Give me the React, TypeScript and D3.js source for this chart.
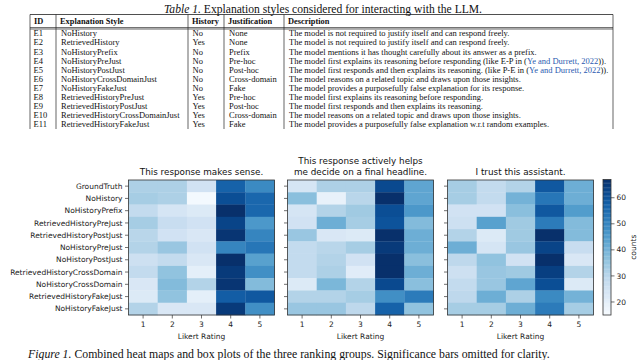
import React from "react";
import * as d3 from "d3";

// table data
const tableIds = ["E1", "E2", "E3", "E4", "E5", "E6", "E7", "E8", "E9", "E10", "E11"];
const tableStyles = [
  "NoHistory",
  "RetrievedHistory",
  "NoHistoryPrefix",
  "NoHistoryPreJust",
  "NoHistoryPostJust",
  "NoHistoryCrossDomainJust",
  "NoHistoryFakeJust",
  "RetrievedHistoryPreJust",
  "RetrievedHistoryPostJust",
  "RetrievedHistoryCrossDomainJust",
  "RetrievedHistoryFakeJust",
];
const tableHistory = ["No", "Yes", "No", "No", "No", "No", "No", "Yes", "Yes", "Yes", "Yes"];
const tableJustification = [
  "None", "None", "Prefix", "Pre-hoc", "Post-hoc", "Cross-domain", "Fake",
  "Pre-hoc", "Post-hoc", "Cross-domain", "Fake",
];
const tableDescriptions = [
  "The model is not required to justify itself and can respond freely.",
  "The model is not required to justify itself and can respond freely.",
  "The model mentions it has thought carefully about its answer as a prefix.",
  "The model first explains its reasoning before responding (like E-P in (Ye and Durrett, 2022)).",
  "The model first responds and then explains its reasoning. (like P-E in (Ye and Durrett, 2022)).",
  "The model reasons on a related topic and draws upon those insights.",
  "The model provides a purposefully false explanation for its response.",
  "The model first explains its reasoning before responding.",
  "The model first responds and then explains its reasoning.",
  "The model reasons on a related topic and draws upon those insights.",
  "The model provides a purposefully false explanation w.r.t random examples.",
];
const citation = "Ye and Durrett, 2022";
const tableHeaders = ["ID", "Explanation Style", "History", "Justification", "Description"];

// heatmap data
const likert = ["1", "2", "3", "4", "5"];
const conditions = [
  "GroundTruth",
  "NoHistory",
  "NoHistoryPrefix",
  "RetrievedHistoryPreJust",
  "RetrievedHistoryPostJust",
  "NoHistoryPreJust",
  "NoHistoryPostJust",
  "RetrievedHistoryCrossDomain",
  "NoHistoryCrossDomain",
  "RetrievedHistoryFakeJust",
  "NoHistoryFakeJust",
];
const makesSense = [
  [32, 32, 25, 57, 49],
  [33, 32, 16, 61, 56],
  [28, 24, 22, 67, 56],
  [33, 27, 25, 63, 46],
  [30, 25, 23, 66, 50],
  [31, 35, 25, 50, 53],
  [26, 28, 23, 67, 44],
  [28, 36, 20, 65, 48],
  [23, 38, 31, 66, 38],
  [22, 36, 20, 58, 59],
  [31, 23, 23, 65, 48],
];
const helpsDecide = [
  [24, 32, 32, 62, 43],
  [37, 19, 30, 67, 43],
  [24, 31, 34, 61, 46],
  [25, 41, 33, 60, 38],
  [35, 23, 22, 67, 41],
  [28, 30, 33, 65, 41],
  [28, 31, 25, 67, 37],
  [28, 32, 21, 67, 41],
  [22, 39, 31, 62, 37],
  [31, 31, 33, 48, 52],
  [35, 35, 29, 57, 36],
];
const trustAssistant = [
  [33, 28, 31, 59, 41],
  [33, 28, 40, 53, 41],
  [25, 25, 37, 59, 45],
  [26, 44, 34, 52, 38],
  [31, 22, 34, 67, 38],
  [41, 24, 35, 63, 27],
  [29, 36, 25, 67, 23],
  [26, 35, 34, 64, 31],
  [28, 35, 43, 61, 22],
  [29, 41, 32, 49, 40],
  [33, 33, 41, 52, 33],
];
const panelTitles = [
  ["This response makes sense."],
  ["This response actively helps", "me decide on a final headline."],
  ["I trust this assistant."],
];
const colorTicks = [20, 30, 40, 50, 60];
const countRange = [15, 67];

const serif = "'Liberation Serif', 'DejaVu Serif', serif";
const sans = "'DejaVu Sans', sans-serif";

function Table() {
  const colEdges = [30, 56, 188, 224, 284, 613];
  const rowY = d3.scaleLinear().domain([0, 10]).range([33.5, 124]);
  return (
    <g fontFamily={serif} fill="#111">
      <text x={323} y={12.5} fontSize={11.6} textAnchor="middle">
        <tspan fontStyle="italic">Table 1.</tspan> Explanation styles considered for interacting with the LLM.
      </text>
      <defs>
        <clipPath id="tclip">
          <rect x={0} y={0} width={640} height={129} />
        </clipPath>
      </defs>
      <g clipPath="url(#tclip)">
        <line x1={colEdges[0]} x2={colEdges[5]} y1={14.5} y2={14.5} stroke="#222" strokeWidth={0.8} />
        <line x1={colEdges[0]} x2={colEdges[5]} y1={27.6} y2={27.6} stroke="#222" strokeWidth={0.7} />
        <line x1={colEdges[0]} x2={colEdges[5]} y1={29} y2={29} stroke="#222" strokeWidth={0.7} />
        {colEdges.map((x, i) => (
          <line key={i} x1={x} x2={x} y1={14.5} y2={140} stroke="#222" strokeWidth={0.7} />
        ))}
        {tableHeaders.map((h, i) => (
          <text key={h} x={colEdges[i] + 4} y={24.2} fontSize={8.4} fontWeight="bold">
            {h}
          </text>
        ))}
        {tableIds.map((id, i) => {
          const y = rowY(i) + 2.9;
          const desc = tableDescriptions[i];
          const parts = desc.split(citation);
          return (
            <g key={id} fontSize={8.5}>
              <text x={colEdges[0] + 3.5} y={y}>{id}</text>
              <text x={colEdges[1] + 5} y={y}>{tableStyles[i]}</text>
              <text x={colEdges[2] + 4.5} y={y}>{tableHistory[i]}</text>
              <text x={colEdges[3] + 5} y={y}>{tableJustification[i]}</text>
              <text x={colEdges[4] + 5} y={y}>
                {parts.length > 1 ? (
                  <>
                    {parts[0]}
                    <tspan fill="#2a5ab0">{citation}</tspan>
                    {parts[1]}
                  </>
                ) : (
                  desc
                )}
              </text>
            </g>
          );
        })}
      </g>
    </g>
  );
}

function Heatmap({ data, left, titles, showLabels, color }) {
  const top = 180;
  const width = 146;
  const height = 135;
  const x = d3.scaleBand().domain(likert).range([left, left + width]);
  const y = d3.scaleBand().domain(conditions).range([top, top + height]);
  return (
    <g fontFamily={sans}>
      {data.map((row, r) =>
        row.map((v, c) => (
          <rect
            key={`${r}-${c}`}
            x={x(likert[c])}
            y={y(conditions[r])}
            width={x.bandwidth() + 0.3}
            height={y.bandwidth() + 0.3}
            fill={color(v)}
          />
        ))
      )}
      <rect x={left} y={top} width={width} height={height} fill="none" stroke="#333" strokeWidth={0.8} />
      {conditions.map((cnd) => {
        const cy = y(cnd) + y.bandwidth() / 2;
        return (
          <g key={cnd}>
            <line x1={left - 3.5} x2={left} y1={cy} y2={cy} stroke="#333" strokeWidth={0.7} />
            {showLabels && (
              <text x={left - 6} y={cy} dy="0.35em" fontSize={7.5} textAnchor="end" fill="#222">
                {cnd}
              </text>
            )}
          </g>
        );
      })}
      {likert.map((l) => {
        const cx = x(l) + x.bandwidth() / 2;
        return (
          <g key={l}>
            <line x1={cx} x2={cx} y1={top + height} y2={top + height + 3.5} stroke="#333" strokeWidth={0.7} />
            <text x={cx} y={top + height + 12} fontSize={7.5} textAnchor="middle" fill="#222">
              {l}
            </text>
          </g>
        );
      })}
      <text x={left + width / 2} y={top + height + 24} fontSize={7.5} textAnchor="middle" fill="#222">
        Likert Rating
      </text>
      {titles.map((t, i) => (
        <text
          key={t}
          x={left + width / 2}
          y={top - 5 - (titles.length - 1 - i) * 11}
          fontSize={8.8}
          textAnchor="middle"
          fill="#111"
        >
          {t}
        </text>
      ))}
    </g>
  );
}

function ColorBar({ color }) {
  const left = 603;
  const w = 8;
  const y = d3.scaleLinear().domain(countRange).range([315, 179.5]);
  const steps = d3.range(countRange[0], countRange[1], 0.5);
  return (
    <g fontFamily={sans}>
      {steps.map((s) => (
        <rect key={s} x={left} y={y(s + 0.5)} width={w} height={y(s) - y(s + 0.5) + 0.3} fill={color(s + 0.25)} />
      ))}
      <rect x={left} y={y(countRange[1])} width={w} height={y(countRange[0]) - y(countRange[1])} fill="none" stroke="#333" strokeWidth={0.8} />
      {colorTicks.map((t) => (
        <g key={t}>
          <line x1={left + w} x2={left + w + 3.5} y1={y(t)} y2={y(t)} stroke="#333" strokeWidth={0.7} />
          <text x={left + w + 5.5} y={y(t)} dy="0.35em" fontSize={7.5} fill="#222">
            {t}
          </text>
        </g>
      ))}
      <text transform={`translate(636,${(y(countRange[0]) + y(countRange[1])) / 2}) rotate(-90)`} fontSize={7.5} textAnchor="middle" fill="#222">
        counts
      </text>
    </g>
  );
}

export default function App() {
  const color = d3.scaleSequential(d3.interpolateBlues).domain(countRange);
  const panels = [makesSense, helpsDecide, trustAssistant];
  const lefts = [128.5, 287.5, 447.5];
  return (
    <svg width={640} height={360} style={{ position: "absolute", left: 0, top: 0, background: "#fff" }}>
      <rect width={640} height={360} fill="#fff" />
      <Table />
      {panels.map((p, i) => (
        <Heatmap key={i} data={p} left={lefts[i]} titles={panelTitles[i]} showLabels={i === 0} color={color} />
      ))}
      <ColorBar color={color} />
      <text x={28} y={358} fontFamily={serif} fontSize={11.8} fill="#111">
        <tspan fontStyle="italic">Figure 1.</tspan> Combined heat maps and box plots of the three ranking groups. Significance bars omitted for clarity.
      </text>
    </svg>
  );
}
